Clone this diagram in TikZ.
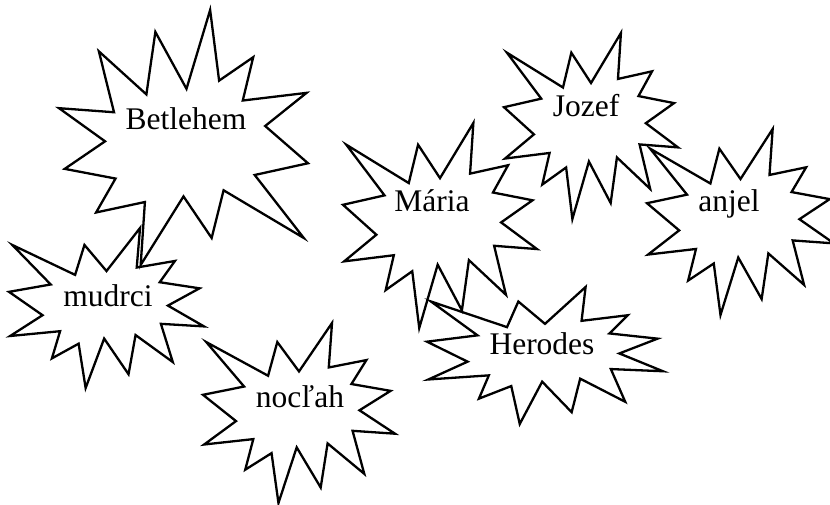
\documentclass[tikz,border=0pt]{standalone}
\usepackage{fontspec}
\setmainfont{Liberation Serif}
\tikzset{
	burstline/.style={draw=black, line width=2.3pt},
	word/.style     ={anchor=base, inner sep=0pt, font=\fontsize{31.5}{36}\selectfont},
	% explosion outline, drawn in a 100 x 100 box
	burst/.pic={
		\draw[burstline] (50,26.9) -- (67.2,0) -- (65.5,24.7) -- (85.1,20.6) -- (77.3,33.9)
			-- (97.7,37.7) -- (81.5,48.5) -- (100,61.5) -- (77.9,59.9) -- (84,83.8)
			-- (64.9,66.9) -- (61.3,91.4) -- (48.8,69.1) -- (39.3,100) -- (35.7,72.3)
			-- (22,81.5) -- (26.2,64.5) -- (0.6,67.5) -- (17.2,54.5) -- (0,39.9)
			-- (21.4,35.3) -- (1.7,10.6) -- (33.9,29.3) -- (38.7,10.6) -- cycle;
	},
}
\begin{document}
\begin{tikzpicture}[x=1pt, y=-1pt]
	\useasboundingbox (0,0) rectangle (830,505);
	% the bursts
	\pic[shift={(308,265)}, rotate=180, xscale=2.49, yscale=2.55] {burst};
	\pic[shift={(9,228)}, xscale=1.95, yscale=1.60] {burst};
	\pic[shift={(203,323)}, xscale=1.92, yscale=1.80] {burst};
	\pic[shift={(343,123)}, xscale=1.94, yscale=2.05] {burst};
	\pic[shift={(504,33)}, xscale=1.74, yscale=1.86] {burst};
	\pic[shift={(647,129)}, xscale=1.87, yscale=1.86] {burst};
	\pic[shift={(427,287)}, xscale=2.36, yscale=1.37] {burst};
	% the words
	\node[word] (bet) at (186,130) {Betlehem};
	\node[word] (mud) at (108,306) {mudrci};
	\node[word] (noc) at (300,407) {nocľah};
	\node[word] (mar) at (432,212) {Mária};
	\node[word] (joz) at (586,117) {Jozef};
	\node[word] (anj) at (729,212) {anjel};
	\node[word] (her) at (542,354) {Herodes};
\end{tikzpicture}
\end{document}
